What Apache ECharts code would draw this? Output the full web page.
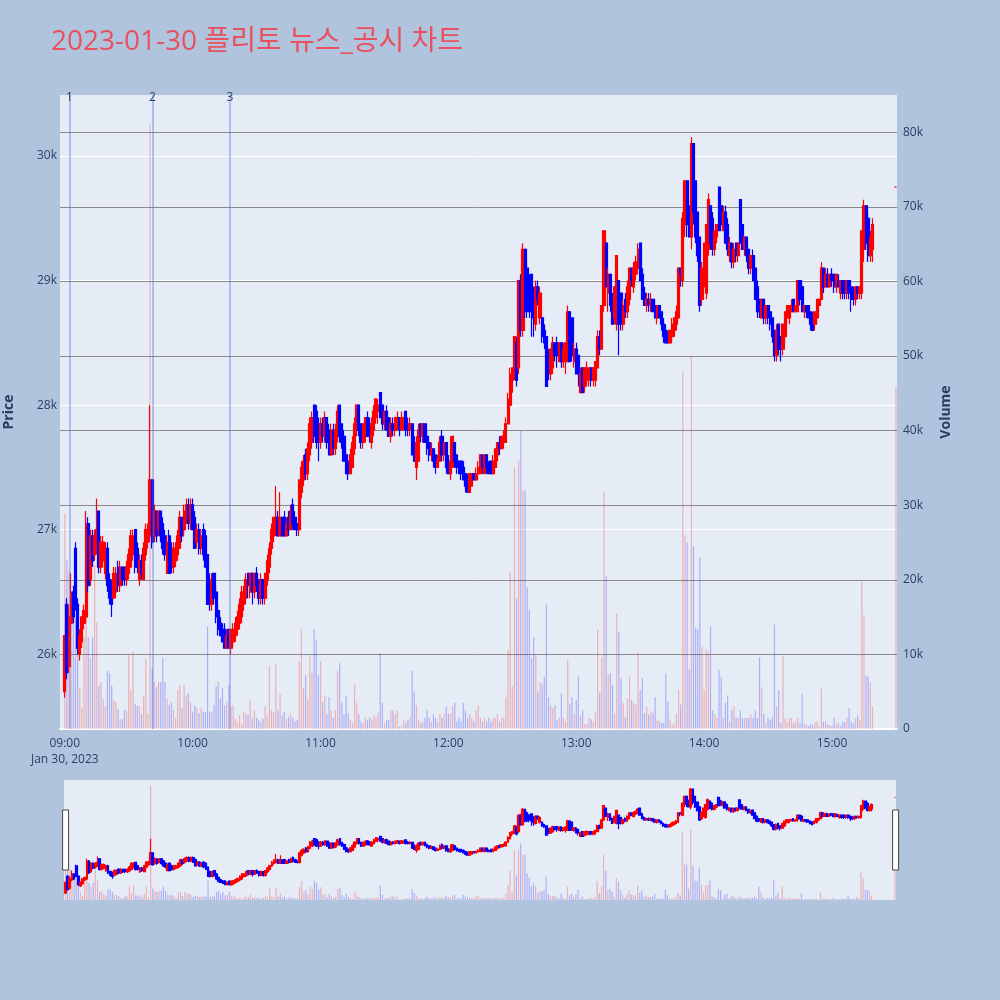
<!DOCTYPE html>
<html>
<head>
<meta charset="utf-8">
<script src="https://cdn.jsdelivr.net/npm/echarts@6/dist/echarts.min.js"></script>
<style>
html,body{margin:0;padding:0;background:#B0C4DE;}
#chart{width:1000px;height:1000px;}
</style>
</head>
<body>
<div id="chart"></div>
<script>
const chartTitle = '2023-01-30 플리토 뉴스_공시 차트';
const dateLabel = 'Jan 30, 2023';
const sessionStart = '09:00';
const closingAuctionTime = '15:30';
const hourTicks = ['09:00','10:00','11:00','12:00','13:00','14:00','15:00'];
const newsMarkers = [
  { label: '1', time: '09:02:10' },
  { label: '2', time: '09:41:10' },
  { label: '3', time: '10:17:30' }
];

// one row per minute from 09:00 (index 0) to 15:19 (index 379), last entry = 15:30 closing auction
const opens = [
25700,26400,25900,26250,26500,26850,26400,26000,26100,26250,
26300,27050,26600,26950,26800,26850,27150,26700,26750,26650,
26850,26600,26550,26450,26500,26700,26550,26700,26700,26600,
26650,26700,26800,27000,26850,26600,26750,26600,26800,26900,
26950,27400,26950,27150,27000,27150,27050,26950,26650,26950,
26850,26700,26750,26800,26850,27100,27000,27050,27200,27050,
27200,27100,26900,27000,26850,27000,26950,26800,26600,26400,
26650,26500,26350,26250,26200,26200,26050,26200,26050,26100,
26150,26200,26250,26300,26400,26450,26650,26500,26650,26500,
26650,26600,26450,26600,26450,26600,26700,26850,26950,27000,
27100,26950,27100,27100,26950,27100,27000,27200,27100,27050,
27000,27300,27400,27600,27450,27600,27700,28000,27950,27850,
27700,27850,27750,27900,27800,27600,27800,27650,27750,28000,
27850,27750,27600,27550,27450,27500,27650,27800,28000,27850,
27700,27750,27900,27850,27700,27800,27900,27950,28100,28000,
27850,27950,27900,27750,27850,27800,27850,27900,27800,27850,
27950,27850,27800,27850,27700,27500,27550,27850,27750,27850,
27750,27700,27600,27650,27600,27500,27550,27750,27600,27700,
27550,27450,27500,27700,27600,27550,27550,27500,27450,27400,
27300,27350,27450,27400,27450,27450,27600,27450,27600,27500,
27550,27450,27500,27600,27700,27650,27700,27700,27850,28000,
28200,28250,28500,28300,29000,28600,29250,29100,29000,29050,
28900,28650,28950,28700,28700,28600,28550,28400,28250,28300,
28500,28500,28350,28500,28350,28400,28350,28750,28700,28350,
28450,28400,28100,28300,28150,28200,28200,28300,28200,28200,
28300,28550,28450,28800,29300,28900,29050,28850,28700,28650,
29000,28900,28650,28850,28750,28850,29100,28950,29050,29100,
29300,29050,28900,28800,28850,28800,28850,28800,28700,28800,
28750,28650,28600,28550,28500,28550,28600,28650,28700,29100,
29000,29450,29800,29600,29350,30100,29800,29550,29350,28850,
28950,28900,29250,29600,29500,29250,29350,29750,29600,29400,
29550,29450,29200,29300,29150,29300,29200,29650,29450,29250,
29350,29250,29100,29200,29100,28950,28850,28700,28850,28700,
28800,28750,28700,28600,28400,28650,28550,28450,28550,28700,
28700,28750,28850,28750,28750,29000,28950,28750,28800,28800,
28750,28700,28650,28700,28800,28850,29100,28950,29050,28950,
29050,29050,28950,29000,28900,29000,29000,28900,29000,28950,
28900,28850,28950,28900,28900,29250,29600,29500,29200,29250,
29750
];
const closes = [
26150,25850,26300,26500,26300,26400,26050,26150,26300,26350,
27050,26550,26950,26750,26950,27000,26700,26900,26900,26850,
26550,26450,26400,26650,26650,26550,26700,26600,26600,26700,
26800,26950,26950,26700,26700,26750,26650,26850,27000,27000,
27400,26900,27150,26950,27150,26950,26850,26800,26900,26650,
26700,26850,26850,26950,27100,26950,27150,27200,27050,27200,
27000,26850,27000,26850,26950,26800,26700,26400,26400,26600,
26450,26300,26200,26150,26100,26050,26150,26050,26200,26200,
26250,26300,26400,26500,26500,26600,26550,26650,26500,26650,
26550,26450,26600,26450,26650,26750,26850,27000,27100,27100,
26950,27100,26950,26950,27050,27000,27150,27050,27000,27000,
27400,27500,27550,27450,27650,27850,27900,27750,27700,27700,
27850,27750,27900,27700,27600,27800,27650,27800,27950,27750,
27700,27550,27450,27450,27600,27700,27850,28000,27800,27700,
27850,27900,27750,27750,27850,27950,28050,28000,27900,27850,
27950,27800,27750,27850,27800,27900,27900,27800,27900,27900,
27800,27800,27850,27600,27550,27700,27800,27750,27850,27700,
27650,27600,27650,27550,27500,27550,27700,27600,27700,27500,
27450,27550,27750,27550,27500,27450,27450,27400,27350,27300,
27450,27450,27400,27450,27500,27600,27500,27600,27500,27450,
27450,27550,27650,27700,27650,27750,27750,27850,28050,28250,
28300,28550,28200,29000,28600,29250,28750,28750,28800,28750,
28700,28950,28850,28900,28550,28500,28150,28250,28450,28500,
28400,28400,28500,28350,28450,28500,28750,28350,28400,28450,
28250,28250,28250,28100,28300,28300,28300,28200,28300,28350,
28550,28450,28800,29400,28950,29050,28800,28650,28950,29200,
28650,28650,28800,28750,28950,29100,29000,29100,29150,29250,
29000,28850,28800,28850,28800,28850,28750,28700,28800,28700,
28650,28550,28500,28500,28600,28650,28700,28750,29100,29050,
29500,29800,29450,29350,30100,29550,29350,29200,28800,29100,
29300,29450,29650,29300,29250,29400,29450,29400,29450,29550,
29300,29250,29300,29150,29250,29200,29300,29300,29250,29350,
29200,29100,29200,29000,28850,28750,28750,28850,28700,28800,
28700,28650,28550,28400,28600,28450,28450,28650,28750,28800,
28800,28800,28750,28800,29000,28850,28750,28800,28750,28700,
28650,28600,28750,28850,28850,29100,28950,29050,28950,29050,
29000,28950,29050,28950,29000,28900,28900,29000,28900,28850,
28850,28950,28900,28950,29400,29600,29300,29200,29350,29450,
29750
];
const lows = [
25650,25800,25850,26200,26250,26350,26000,25950,26050,26200,
26250,26500,26550,26700,26750,26800,26650,26650,26700,26600,
26500,26400,26300,26450,26450,26500,26500,26550,26550,26550,
26600,26700,26750,26650,26650,26550,26600,26600,26750,26850,
26900,26850,26900,26900,26950,26900,26800,26750,26650,26650,
26650,26650,26700,26750,26850,26900,26950,27050,27000,27000,
27000,26850,26850,26800,26800,26750,26700,26400,26350,26350,
26400,26250,26150,26150,26100,26050,26050,26050,26000,26050,
26100,26150,26200,26250,26350,26400,26450,26450,26400,26450,
26500,26400,26400,26400,26400,26550,26650,26800,26900,26950,
26950,26950,26950,26950,26950,26950,27000,27000,27000,26950,
26950,27250,27350,27400,27400,27550,27650,27700,27650,27550,
27650,27700,27700,27650,27600,27600,27600,27600,27700,27700,
27650,27550,27450,27400,27450,27500,27600,27750,27750,27650,
27650,27700,27750,27700,27650,27750,27850,27850,27900,27800,
27800,27800,27750,27700,27750,27750,27800,27750,27800,27800,
27750,27750,27750,27600,27550,27400,27550,27700,27700,27700,
27600,27550,27550,27500,27450,27500,27550,27550,27550,27450,
27450,27400,27500,27500,27450,27450,27400,27400,27300,27300,
27300,27350,27400,27400,27400,27450,27450,27450,27450,27450,
27450,27450,27500,27550,27600,27650,27650,27700,27850,28000,
28100,28200,28150,28250,28550,28550,28700,28700,28700,28550,
28550,28600,28800,28650,28500,28450,28150,28200,28200,28250,
28350,28300,28350,28300,28300,28250,28350,28350,28350,28300,
28250,28150,28100,28100,28100,28150,28150,28150,28150,28150,
28300,28400,28450,28750,28950,28750,28750,28650,28650,28600,
28400,28600,28600,28700,28700,28800,28950,28900,29000,29050,
29000,28850,28800,28750,28750,28750,28750,28700,28650,28700,
28600,28500,28500,28500,28500,28500,28550,28600,28700,28950,
28950,29350,29350,29350,29250,29450,29300,29150,28750,28800,
28950,28850,29200,29250,29200,29200,29300,29400,29400,29400,
29300,29200,29150,29100,29100,29150,29150,29300,29250,29200,
29150,29050,29050,29000,28850,28700,28700,28700,28650,28650,
28650,28600,28500,28350,28350,28400,28350,28400,28500,28650,
28650,28750,28750,28750,28750,28800,28750,28700,28700,28700,
28600,28600,28600,28650,28750,28850,28900,28950,28950,28950,
28950,28900,28900,28950,28850,28850,28850,28850,28850,28750,
28800,28800,28850,28850,28850,29150,29250,29150,29150,29150,
29750
];
const highs = [
26150,26450,26400,26650,26550,26900,26450,26200,26300,26400,
27150,27100,27000,27000,27000,27250,27150,26950,26950,26900,
26900,26650,26600,26700,26700,26750,26750,26700,26700,26750,
26850,27000,27000,27000,26900,26800,26800,26900,27050,27050,
28000,27400,27200,27150,27150,27150,27100,27000,26950,27000,
26900,26900,26900,27000,27150,27100,27200,27250,27250,27250,
27250,27150,27050,27050,27000,27050,27000,26800,26650,26650,
26650,26550,26400,26300,26250,26250,26200,26200,26200,26250,
26300,26350,26450,26550,26550,26650,26650,26650,26650,26650,
26700,26600,26650,26600,26650,26800,26900,27050,27100,27350,
27150,27300,27100,27150,27100,27150,27200,27250,27150,27050,
27400,27550,27600,27650,27700,27900,27950,28000,28000,27900,
27900,27900,27950,27900,27850,27850,27850,27850,28000,28000,
27850,27800,27650,27550,27650,27750,27900,28000,28000,27850,
27850,27900,27950,27900,27900,28000,28050,28050,28100,28000,
27950,28000,27900,27900,27900,27900,27950,27900,27950,27900,
27950,27900,27900,27850,27750,27750,27850,27850,27850,27850,
27800,27700,27700,27650,27600,27600,27750,27800,27700,27700,
27600,27750,27750,27700,27600,27550,27550,27550,27450,27450,
27450,27450,27450,27500,27550,27600,27600,27600,27600,27550,
27550,27600,27650,27700,27750,27750,27800,27900,28100,28300,
28300,28550,28550,29000,29050,29300,29250,29150,29050,29050,
28950,29000,29000,28950,28700,28650,28550,28450,28450,28550,
28500,28550,28500,28500,28500,28500,28800,28750,28700,28500,
28500,28400,28300,28300,28300,28350,28300,28300,28300,28350,
28600,28600,28800,29400,29300,29100,29050,28900,28950,29200,
29000,28900,28850,28900,29000,29100,29100,29150,29200,29300,
29300,29100,28950,28900,28900,28900,28850,28850,28800,28800,
28750,28700,28650,28600,28600,28700,28700,28800,29100,29100,
29550,29800,29800,29650,30150,30100,29800,29550,29350,29150,
29300,29450,29700,29600,29550,29400,29450,29750,29650,29600,
29600,29500,29350,29300,29300,29300,29300,29650,29450,29350,
29350,29250,29200,29250,29100,29000,28850,28850,28850,28800,
28800,28750,28700,28600,28650,28650,28550,28650,28750,28800,
28800,28850,28850,28800,29000,29000,29000,28800,28800,28800,
28750,28750,28750,28850,28850,29150,29100,29100,29100,29050,
29100,29050,29050,29050,29000,29000,29000,29000,29000,28950,
28950,28950,28950,28950,29400,29650,29600,29550,29400,29500,
29750
];
const volumes = [
28900,22600,21200,16500,15400,14900,17000,5500,2800,12300,
15100,12300,9600,12300,22000,14300,5800,6300,4000,3000,
7800,7500,5800,3900,3600,2600,1300,1300,2600,2400,
9900,5200,10400,3400,3100,3100,2000,4400,9400,2100,
81000,8000,6300,5600,6300,6300,9600,6300,4100,3200,
3600,2600,1400,5200,5900,2800,5900,4500,4800,3600,
2300,3200,2800,2100,2800,2300,2300,13700,2300,2300,
3200,5700,6300,4100,5500,3200,3600,5900,3000,3200,
1400,1000,1800,600,2300,2100,1900,3900,1400,2500,
1500,1200,1000,1400,3000,1800,8400,2500,2200,8800,
2500,4700,1800,2300,1300,1600,2000,1500,1000,1200,
9000,13400,5500,7200,4000,9900,7600,13400,12000,7200,
9100,3600,4500,2000,4300,2500,1500,2500,7800,8800,
3600,2000,4500,2100,1200,800,6000,3500,2000,1000,
800,1500,1200,1600,1300,1800,1500,2200,10200,3500,
800,1200,1200,2500,2500,2000,2500,300,500,1200,
800,1200,1600,7800,5000,3200,1200,800,1000,1500,
2500,1500,1000,2000,1500,1000,2000,1500,2000,3000,
2000,2000,3000,3500,1000,1500,1000,3500,2500,1500,
2000,1500,1000,2500,3200,1500,1000,1500,1000,1500,
1000,1500,1500,2000,1000,1500,1500,4300,10600,21000,
5700,35000,17500,36000,40000,32000,32000,19000,16000,9500,
12300,10000,5000,6300,6000,7000,16700,4300,3200,2800,
3200,1200,1500,4800,1500,1000,9300,3400,4300,2000,
3900,7000,1800,2500,700,700,1500,1300,1000,2200,
13300,4900,9600,31800,20500,7300,7500,5900,2100,15500,
13000,6800,3500,1600,4100,7000,3900,3500,3300,10300,
5200,6800,2100,3000,1900,2400,2100,4300,1200,1000,
800,800,7400,3700,1300,600,800,2100,5200,3300,
48000,26000,25000,8000,50000,24500,13600,13400,23000,11000,
5300,10700,10400,13800,2500,2000,1500,7900,7000,1500,
3500,4500,1000,2500,3000,1500,1500,2500,1500,1500,
1500,1500,2000,1500,2500,1500,9600,5600,2000,800,
1500,1200,1500,14000,3000,5200,800,9800,1500,1000,
1500,1500,800,1000,1500,800,4700,700,500,400,
700,500,900,1000,400,5400,1000,1000,600,500,
400,1500,600,800,500,1000,900,1500,2800,1000,
800,1400,1800,1200,19700,15300,7100,7000,6200,3000,
45800
];

// x positions are minutes after the session start
const toMin = s => {
  const p = s.split(':').map(Number);
  const b = sessionStart.split(':').map(Number);
  return (p[0] - b[0]) * 60 + (p[1] - b[1]) + (p[2] || 0) / 60;
};
const times = opens.map((_, i) => i < opens.length - 1 ? i : toMin(closingAuctionTime));

const font = '"Open Sans", "Noto Sans CJK KR", sans-serif';
const axisText = '#2a3f5f';
const upColor = '#ff0000', downColor = '#0000ff';
const upVol = 'rgba(255,0,0,0.25)', downVol = 'rgba(0,0,255,0.25)';

const isUp = i => closes[i] > opens[i] || (closes[i] === opens[i] && i > 0 && closes[i] >= closes[i - 1]);
const candleData = times.map((t, i) => [t, opens[i], closes[i], lows[i], highs[i]]);
const volData = times.map((t, i) => ({ value: [t, volumes[i]], itemStyle: { color: isUp(i) ? upVol : downVol } }));

const pad = n => String(n).padStart(2, '0');
const base = sessionStart.split(':').map(Number);
const timeFmt = v => {
  const total = base[0] * 60 + base[1] + Math.round(v);
  const s = pad(Math.floor(total / 60)) + ':' + pad(total % 60);
  return s === hourTicks[0] ? s + '\n' + dateLabel : s;
};

const candleStyle = { color: upColor, color0: downColor, borderColor: upColor, borderColor0: downColor, borderWidth: 1.2 };

const chart = echarts.init(document.getElementById('chart'), null, { renderer: 'canvas', width: 1000, height: 1000 });
chart.setOption({
  backgroundColor: '#B0C4DE',
  animation: false,
  textStyle: { fontFamily: font },
  title: {
    text: chartTitle, left: 46, top: 23,
    textStyle: { color: '#E95060', fontSize: 28, fontWeight: 'normal', fontFamily: font }
  },
  grid: [
    { left: 60, right: 103, top: 95, bottom: 271, show: true, backgroundColor: '#E5ECF6', borderWidth: 0, containLabel: false, outerBoundsMode: 'none' },
    { left: 64, right: 104, top: 780, height: 120, show: true, backgroundColor: '#E5ECF6', borderWidth: 0, containLabel: false, outerBoundsMode: 'none' }
  ],
  xAxis: [
    {
      type: 'value', gridIndex: 0, min: toMin('08:57:45'), max: toMin('15:30:30'),
      axisLine: { show: true, onZero: false, lineStyle: { color: '#ffffff', width: 2 } },
      axisTick: { show: false },
      splitLine: { show: false },
      axisLabel: {
        customValues: hourTicks.map(toMin), formatter: timeFmt,
        color: axisText, fontSize: 12, margin: 7, lineHeight: 16, fontFamily: font
      }
    },
    { type: 'value', gridIndex: 1, min: toMin('08:59:15'), max: toMin('15:30:30'), show: false }
  ],
  yAxis: [
    {
      type: 'value', gridIndex: 0, position: 'left', min: 25400, max: 30490, splitNumber: 5,
      axisLine: { show: false }, axisTick: { show: false },
      axisLabel: { formatter: v => (v / 1000) + 'k', color: axisText, fontSize: 12, margin: 3, showMinLabel: false, showMaxLabel: false, fontFamily: font },
      splitLine: { show: true, showMinLine: false, showMaxLine: false, lineStyle: { color: '#ffffff', width: 1 } },
      name: 'Price', nameLocation: 'middle', nameRotate: 90, nameGap: 44,
      nameTextStyle: { color: axisText, fontSize: 14, fontWeight: 'bold', fontFamily: font }
    },
    {
      type: 'value', gridIndex: 0, position: 'right', min: 0, max: 85000, interval: 10000,
      axisLine: { show: false }, axisTick: { show: false },
      axisLabel: { formatter: v => v === 0 ? '0' : (v / 1000) + 'k', color: axisText, fontSize: 12, margin: 6, showMaxLabel: false, fontFamily: font },
      splitLine: { show: true, showMinLine: false, showMaxLine: false, lineStyle: { color: '#8a8a8a', width: 1 } },
      name: 'Volume', nameLocation: 'middle', nameRotate: 90, nameGap: 42,
      nameTextStyle: { color: axisText, fontSize: 14, fontWeight: 'bold', fontFamily: font }
    },
    { type: 'value', gridIndex: 1, min: 25400, max: 30490, show: false },
    { type: 'value', gridIndex: 1, min: 0, max: 85000, show: false }
  ],
  dataZoom: [{
    type: 'slider', xAxisIndex: 1, start: 0, end: 100, filterMode: 'none',
    left: 64, right: 104, top: 780, height: 120,
    showDataShadow: false, showDetail: false, brushSelect: false, moveHandleSize: 0,
    backgroundColor: 'transparent', borderColor: 'transparent', fillerColor: 'transparent',
    handleIcon: 'path://M0,0H6V60H0Z', handleSize: '50%',
    handleStyle: { color: '#ffffff', borderColor: '#444444', borderWidth: 1 }
  }],
  series: [
    {
      type: 'bar', name: 'Volume', xAxisIndex: 0, yAxisIndex: 1, data: volData,
      barWidth: 1.2, z: 2, silent: true
    },
    {
      type: 'candlestick', name: 'Price', xAxisIndex: 0, yAxisIndex: 0, data: candleData,
      barWidth: 2.6, z: 3, itemStyle: candleStyle, silent: true,
      markLine: {
        silent: true, symbol: ['none', 'none'], animation: false,
        lineStyle: { color: 'rgba(65,105,225,0.35)', width: 2, type: 'solid' },
        label: { show: true, position: 'end', distance: -9, color: axisText, fontSize: 12, fontFamily: font },
        data: newsMarkers.map(m => ({ xAxis: toMin(m.time), label: { formatter: m.label } }))
      }
    },
    {
      type: 'bar', xAxisIndex: 1, yAxisIndex: 3, data: volData,
      barWidth: 1.2, z: 2, silent: true
    },
    {
      type: 'candlestick', xAxisIndex: 1, yAxisIndex: 2, data: candleData,
      barWidth: 2.2, z: 3, itemStyle: candleStyle, silent: true
    }
  ]
});
</script>
</body>
</html>
